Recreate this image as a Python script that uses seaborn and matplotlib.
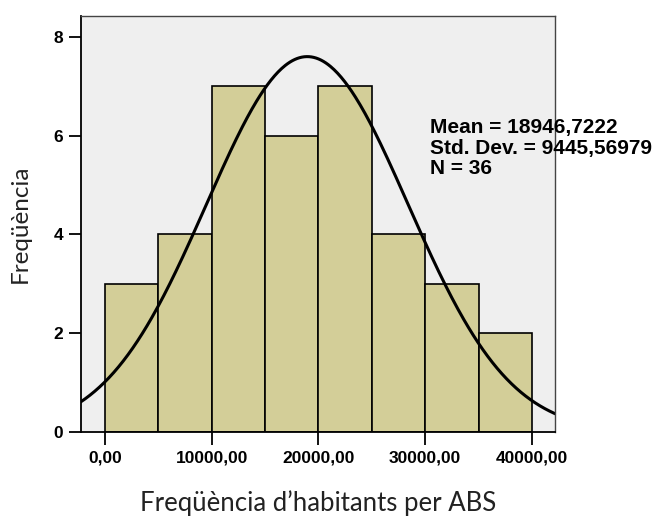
import numpy as np
import pandas as pd
import matplotlib
matplotlib.use("Agg")
import matplotlib.pyplot as plt
import seaborn as sns

# Histogram bins (population per ABS) and counts
bin_edges = [0, 5000, 10000, 15000, 20000, 25000, 30000, 35000, 40000]
counts = [3, 4, 7, 6, 7, 4, 3, 2]

# Summary statistics
mean_val = 18946.7222
std_val = 9445.56979
n_obs = 36

x_ticks = [0, 10000, 20000, 30000, 40000]
x_tick_labels = ["0,00", "10000,00", "20000,00", "30000,00", "40000,00"]
y_ticks = [0, 2, 4, 6, 8]

sns.set_theme(style="white")
plt.rcParams["font.family"] = ["Liberation Sans", "DejaVu Sans"]

fig = plt.figure(figsize=(6.58, 5.21), dpi=100)
ax = fig.add_axes([81 / 658, 1 - 432 / 521, (555 - 81) / 658, (432 - 16) / 521])
ax.set_facecolor("#efefef")

centers = [(a + b) / 2 for a, b in zip(bin_edges[:-1], bin_edges[1:])]
df = pd.DataFrame({"value": centers, "count": counts})
sns.histplot(data=df, x="value", weights="count", bins=bin_edges, ax=ax,
             color="#d3ce98", alpha=1, edgecolor="black", linewidth=1.2)

# Normal curve scaled to counts per bin
bw = bin_edges[1] - bin_edges[0]
xs = np.linspace(-2300, 42200, 400)
ys = n_obs * bw / (std_val * np.sqrt(2 * np.pi)) * np.exp(-0.5 * ((xs - mean_val) / std_val) ** 2)
sns.lineplot(x=xs, y=ys, ax=ax, color="black", linewidth=2.2)

ax.set_xlim(-2248, 42155)
ax.set_ylim(0, 8.425)
ax.set_xticks(x_ticks)
ax.set_xticklabels(x_tick_labels, fontweight="bold", fontsize=12.5, color="black")
ax.set_yticks(y_ticks)
ax.set_yticklabels([str(v) for v in y_ticks], fontweight="bold", fontsize=12.5, color="black")
ax.tick_params(axis="both", which="both", direction="out", length=9, width=1.3,
               color="black", pad=4, bottom=True, left=True)

for side in ["left", "bottom"]:
    ax.spines[side].set_color("black")
    ax.spines[side].set_linewidth(1.3)
for side in ["top", "right"]:
    ax.spines[side].set_color("#444444")
    ax.spines[side].set_linewidth(1.0)

ax.set_xlabel("Freqüència d’habitants per ABS", fontsize=18.5, family=["Lato", "DejaVu Sans"],
              color="#222222", labelpad=18)
ax.set_ylabel("Freqüència", fontsize=17.5, family=["Lato", "DejaVu Sans"],
              color="#222222", labelpad=16)

mean_txt = f"{mean_val:.4f}".replace(".", ",")
std_txt = f"{std_val:.5f}".replace(".", ",")
stats = f"Mean = {mean_txt}\nStd. Dev. = {std_txt}\nN = {n_obs}"
fig.text(430 / 658, 1 - 118 / 521, stats, ha="left", va="top", fontsize=15,
         fontweight="bold", linespacing=1.1, color="black")

fig.savefig("out.png", dpi=100)
